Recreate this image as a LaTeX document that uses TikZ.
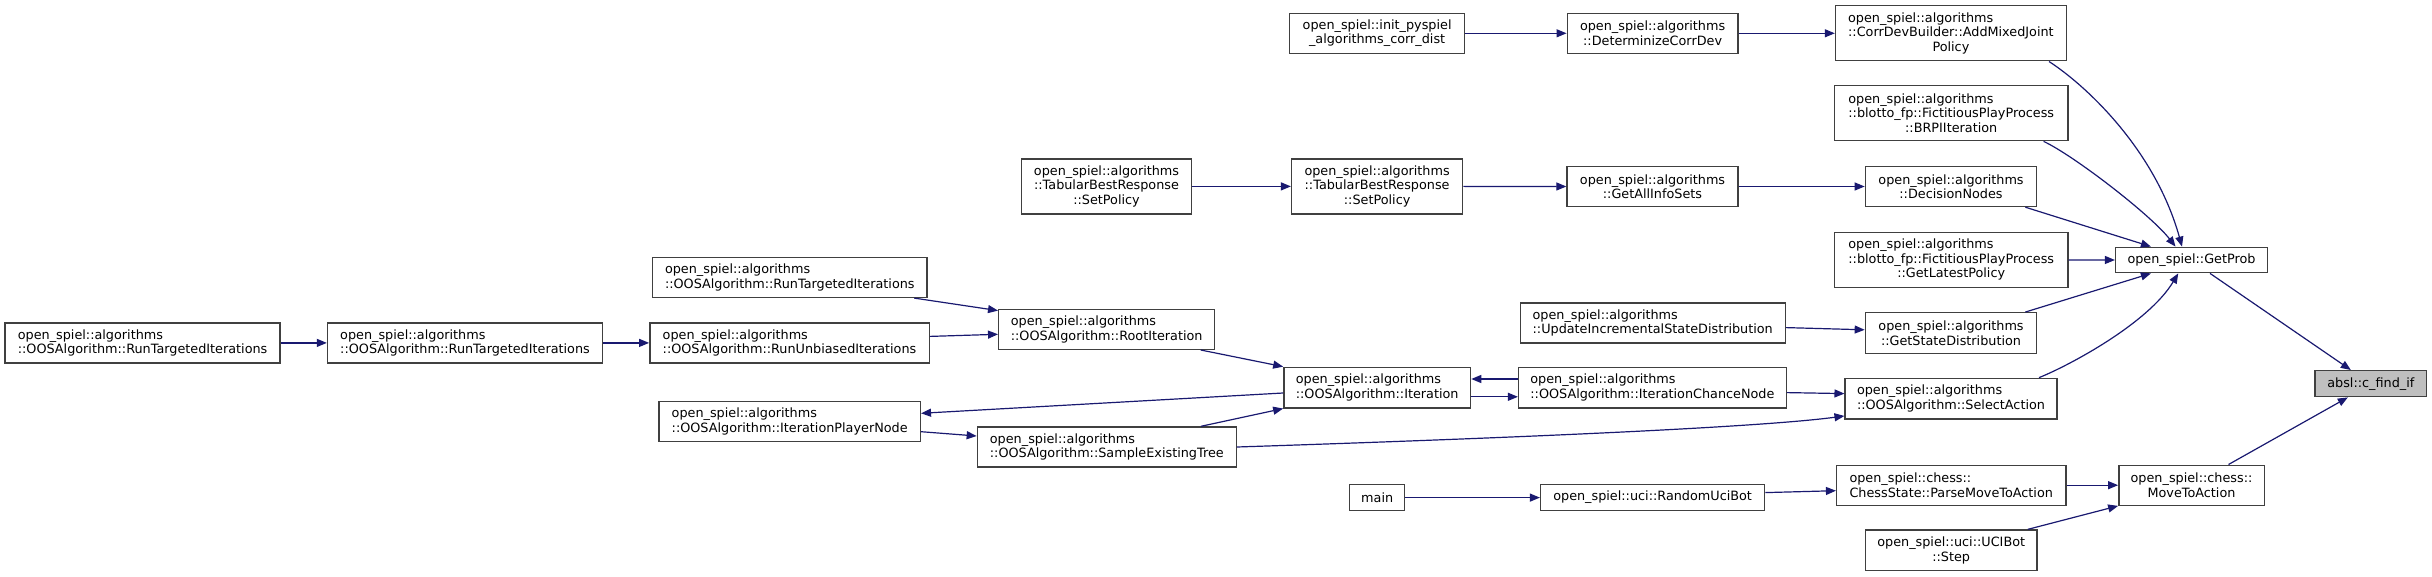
\documentclass[tikz,border=0pt]{standalone}
\usepackage{fontspec}
\setmainfont{DejaVu Sans}
\usetikzlibrary{arrows.meta,calc}
\definecolor{edgeblue}{HTML}{191970}
\definecolor{boxline}{HTML}{404040}
\definecolor{hlfill}{HTML}{BFBFBF}
\newcommand\lft[2]{\rlap{#1}\phantom{#2}}
\newcommand\two[2]{\lft{#1}{#2}\\#2}
\begin{document}
\begin{tikzpicture}[x=1pt,y=-1pt,
 box/.style={draw=boxline, line width=1.4pt, fill=white, align=center, inner sep=0pt,
   font=\fontsize{12.8}{14.5}\selectfont},
 e/.style={edgeblue, line width=1.2pt, -{Triangle[length=10pt,width=8pt]}}]
\useasboundingbox (0,0) rectangle (2432,577);
% column 1-4
\node[box, minimum width=275pt, minimum height=40pt] (n1) at (142.6,342.9) {\two{open\_spiel::algorithms}{::OOSAlgorithm::RunTargetedIterations}};
\node[box, minimum width=275pt, minimum height=40pt] (n2) at (465,342.9) {\two{open\_spiel::algorithms}{::OOSAlgorithm::RunTargetedIterations}};
\node[box, minimum width=279.4pt, minimum height=40pt] (ru) at (789.5,342.9) {\two{open\_spiel::algorithms}{::OOSAlgorithm::RunUnbiasedIterations}};
\node[box, minimum width=274.7pt, minimum height=40pt] (rtu) at (789.8,277.4) {\two{open\_spiel::algorithms}{::OOSAlgorithm::RunTargetedIterations}};
\node[box, minimum width=261.3pt, minimum height=40pt] (ipn) at (789.7,421.3) {\two{open\_spiel::algorithms}{::OOSAlgorithm::IterationPlayerNode}};
\node[box, minimum width=216pt, minimum height=40pt] (ri) at (1106.7,329.3) {\two{open\_spiel::algorithms}{::OOSAlgorithm::RootIteration}};
\node[box, minimum width=258.9pt, minimum height=40pt] (set) at (1106.8,447) {\two{open\_spiel::algorithms}{::OOSAlgorithm::SampleExistingTree}};
\node[box, minimum width=170.5pt, minimum height=55pt] (tbra) at (1106.5,186.4) {open\_spiel::algorithms\\::TabularBestResponse\\::SetPolicy};
% column 5
\node[box, minimum width=171pt, minimum height=55pt] (tbrb) at (1377.1,186.4) {open\_spiel::algorithms\\::TabularBestResponse\\::SetPolicy};
\node[box, minimum width=175.2pt, minimum height=40pt] (ip) at (1377.1,33.3) {open\_spiel::init\_pyspiel\\\_algorithms\_corr\_dist};
\node[box, minimum width=186.7pt, minimum height=40.5pt] (it) at (1377.2,387.6) {\two{open\_spiel::algorithms}{::OOSAlgorithm::Iteration}};
\node[box, minimum width=55pt, minimum height=26pt] (main) at (1377.2,497.6) {main};
% column 6
\node[box, minimum width=170.7pt, minimum height=40pt] (dcd) at (1652.6,33.3) {open\_spiel::algorithms\\::DeterminizeCorrDev};
\node[box, minimum width=170.9pt, minimum height=40pt] (gais) at (1652.5,186.5) {open\_spiel::algorithms\\::GetAllInfoSets};
\node[box, minimum width=265pt, minimum height=40pt] (uisd) at (1652.7,323) {\two{open\_spiel::algorithms}{::UpdateIncrementalStateDistribution}};
\node[box, minimum width=267.6pt, minimum height=40.5pt] (icn) at (1652.4,387.6) {\two{open\_spiel::algorithms}{::OOSAlgorithm::IterationChanceNode}};
\node[box, minimum width=224pt, minimum height=26pt] (rub) at (1652.6,497.6) {open\_spiel::uci::RandomUciBot};
% column 7
\node[box, minimum width=230.8pt, minimum height=55pt] (cdb) at (1950.9,33.3) {\lft{open\_spiel::algorithms}{::CorrDevBuilder::AddMixedJoint}\\::CorrDevBuilder::AddMixedJoint\\Policy};
\node[box, minimum width=233.4pt, minimum height=55pt] (brpi) at (1951.2,113.2) {\lft{open\_spiel::algorithms}{::blotto\_fp::FictitiousPlayProcess}\\::blotto\_fp::FictitiousPlayProcess\\::BRPIIteration};
\node[box, minimum width=171.3pt, minimum height=40pt] (dn) at (1951,186.5) {open\_spiel::algorithms\\::DecisionNodes};
\node[box, minimum width=233.4pt, minimum height=55pt] (glp) at (1951.2,259.9) {\lft{open\_spiel::algorithms}{::blotto\_fp::FictitiousPlayProcess}\\::blotto\_fp::FictitiousPlayProcess\\::GetLatestPolicy};
\node[box, minimum width=171.3pt, minimum height=40.5pt] (gsd) at (1951,333) {open\_spiel::algorithms\\::GetStateDistribution};
\node[box, minimum width=211.7pt, minimum height=40.5pt] (sa) at (1951,398.6) {\two{open\_spiel::algorithms}{::OOSAlgorithm::SelectAction}};
\node[box, minimum width=229.2pt, minimum height=40pt] (pmta) at (1951.2,485.2) {\two{open\_spiel::chess::}{ChessState::ParseMoveToAction}};
\node[box, minimum width=171.8pt, minimum height=40.5pt] (step) at (1951.2,550.3) {open\_spiel::uci::UCIBot\\::Step};
% column 8-9
\node[box, minimum width=151.8pt, minimum height=25.4pt] (gp) at (2191.5,260) {open\_spiel::GetProb};
\node[box, minimum width=145.4pt, minimum height=40pt] (mta) at (2191.5,485.2) {open\_spiel::chess::\\MoveToAction};
\node[box, fill=hlfill, minimum width=111.4pt, minimum height=26pt] (cfi) at (2370.8,383.7) {absl::c\_find\_if};
% edges
\draw[e] (ip.east) -- (dcd.west);
\draw[e] (dcd.east) -- (cdb.west);
\draw[e] ($(cdb.south east)+(-18,0)$) .. controls +(37,24) and +(-27,-97) .. ($(gp.north)+(-9.5,0)$);
\draw[e] ($(brpi.south east)+(-25,0)$) .. controls +(30,14) and +(-25,-32) .. ($(gp.north)+(-16,0)$);
\draw[e] (tbra.east) -- (tbrb.west);
\draw[e] (tbrb.east) -- (gais.west);
\draw[e] (gais.east) -- (dn.west);
\draw[e] ($(dn.south east)+(-12,0)$) -- ($(gp.north west)+(36,0)$);
\draw[e] (glp.east) -- (gp.west);
\draw[e] ($(gsd.north east)+(-12,0)$) -- ($(gp.south west)+(36,0)$);
\draw[e] ($(sa.north east)+(-18.6,0)$) .. controls +(30,-12) and +(-30,50) .. ($(gp.south)+(-13.3,0)$);
\draw[e] ($(uisd.east)+(0,4.6)$) -- ($(gsd.west)+(0,-3.2)$);
\draw[e] ($(gp.south)+(18.5,0)$) -- ($(cfi.north)+(-20,0)$);
\draw[e] ($(mta.north)+(37,0)$) -- ($(cfi.south)+(-23,0)$);
\draw[e] (n1.east) -- (n2.west);
\draw[e] (n2.east) -- (ru.west);
\draw[e] ($(rtu.south east)+(-13.6,0)$) -- ($(ri.north west)+(0,2)$);
\draw[e] ($(ru.east)+(0,-6.5)$) -- ($(ri.west)+(0,5)$);
\draw[e] ($(ri.south east)+(-14.7,0)$) -- (it.north west);
\draw[e] ($(it.west)+(0,5.4)$) -- ($(ipn.east)+(0,-8)$);
\draw[e] ($(ipn.east)+(0,10.4)$) -- ($(set.west)+(0,-11)$);
\draw[e] ($(set.north east)+(-36,0)$) -- (it.south west);
\draw[e] ($(it.east)+(0,9.2)$) -- ($(icn.west)+(0,9.2)$);
\draw[e] ($(icn.west)+(0,-8.6)$) -- ($(it.east)+(0,-8.6)$);
\draw[e] ($(icn.east)+(0,5)$) -- ($(sa.west)+(0,-5)$);
\draw[e] (set.east) .. controls +(214,-7) and +(-95,12.8) .. ($(sa.south west)+(0,-3.6)$);
\draw[e] (main.east) -- (rub.west);
\draw[e] ($(rub.east)+(0,-5)$) -- ($(pmta.west)+(0,5.5)$);
\draw[e] (pmta.east) -- (mta.west);
\draw[e] ($(step.north east)+(-10,0)$) -- (mta.south west);
\end{tikzpicture}
\end{document}
